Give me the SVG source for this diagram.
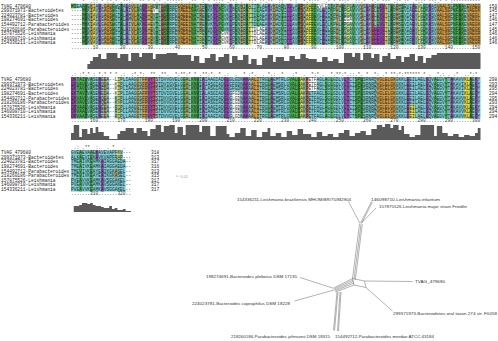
<svg xmlns="http://www.w3.org/2000/svg" width="498" height="341" viewBox="0 0 498 341">
<style>
.m{font-family:"Liberation Mono","DejaVu Sans Mono",monospace;font-size:4.55px;fill:#1e1e1e}
.c{font-family:"Liberation Mono","DejaVu Sans Mono",monospace;font-size:4.55px;fill:#333}
.cy{fill:#7ccfd6}
.g{stroke:#46b34a}.d{stroke:#347a34}.p{stroke:#9a44b4}.o{stroke:#cf9a42}.y{stroke:#e6dd3a}.r{stroke:#d04a3a}
.fw{fill:#fff}.fg{fill:#46b34a}.fp{fill:#9a44b4}.fo{fill:#cf9a42}.fy{fill:#e6dd3a}
.h{fill:#5a5a5a}
.tl{stroke:#555;stroke-width:.45;fill:none}
.lb{font-family:"Liberation Sans",Arial,sans-serif;font-size:4.3px;fill:#333}
</style>
<rect width="498" height="341" fill="#fff"/>

<g id="block1">
 <g transform="translate(71,24.4) scale(2.73,1)">
  <rect class="cy" x="0" y="-20.7" width="150" height="41.4"/>
  <g fill="none" stroke-width="41.4">
   <path class="g" d="M4 0h1M15 0h1M24 0h1M31 0h1M34 0h1M44 0h2M54 0h2M60 0h1M68 0h1M77 0h1M88 0h2M95 0h1M103 0h1M112 0h1M121 0h1M129 0h1M140 0h2M143 0h1"/>
   <path class="d" d="M5 0h1M18 0h1M35 0h1M49 0h1M64 0h1M83 0h1M99 0h1M117 0h1M142 0h1"/>
   <path class="p" d="M10 0h1M20 0h1M26 0h2M52 0h2M58 0h1M72 0h1M79 0h2M92 0h1M108 0h1M113 0h2M125 0h1M131 0h1"/>
   <path class="o" d="M7 0h1M12 0h3M22 0h2M29 0h1M39 0h5M47 0h1M62 0h1M74 0h1M97 0h1M106 0h1M119 0h1M134 0h5M145 0h5"/>
   <path class="y" d="M8 0h1M28 0h1M65 0h1M86 0h2M101 0h1M115 0h1M127 0h1"/>
   <path class="r" d="M33 0h1M84 0h1M110 0h1"/>
  </g>
  <rect class="fw" x="0" y="-16.1" width="4" height="36.8"/>
  <rect class="fg" x="0" y="-20.7" width="2" height="4.6"/>
  <rect class="fw" x="66" y="2.3" width="5" height="18.4"/>
  <rect class="fw" x="90" y="-20.7" width="4" height="4.6"/>
  <rect class="fp" x="111" y="2.3" width="3" height="18.4"/>
  <rect class="fw" x="55" y="6.9" width="3" height="13.8"/>
  <rect class="fw" x="30" y="-16.1" width="2" height="4.6"/>
  <rect class="fw" x="100" y="-6.9" width="3" height="4.6"/>
  <rect class="fy" x="47" y="6.9" width="1" height="13.8"/>
 </g>
 <text class="c" x="71" y="3.4" xml:space="preserve">    *  .:: * :*.* .**:.  ** * *.* .*:*:*:  .**  : * *::* .**: .  *:* :*.**  ::  * :  *.*:**  .* * **:*  ::.*  *.* *** .:* :* .*::* **:.* * :**********</text>
 <text class="m">
  <tspan x="1" y="7.6">TVAG_479680</tspan>
  <tspan x="1" y="12.2">299371973-Bacteroidetes</tspan>
  <tspan x="1" y="16.8">224023781-Bacteroides</tspan>
  <tspan x="1" y="21.4">198274691-Bacteroides</tspan>
  <tspan x="1" y="26">154492712-Parabacteroides</tspan>
  <tspan x="1" y="30.6">218260186-Parabacteroides</tspan>
  <tspan x="1" y="35.2">157875526-Leishmania</tspan>
  <tspan x="1" y="39.8">146098710-Leishmania</tspan>
  <tspan x="1" y="44.4">154336211-Leishmania</tspan>
 </text>
 <text class="m">
  <tspan x="71" y="7.6">MIEAAVEKIAVLGAGGWGTALAVLLAKNGHDVTLWARRPEQAEEINATRENKKYLPGVKLPDNIKATTDLAEAVKDADVILLAVPSQAFREVLEQIKPHLKPGAVVVSLAKGLEVGTLKRMSEVIAEVLGDKASVAALSGPNFAKEVAEG</tspan>
  <tspan x="71" y="12.2">----MKKIAVIGAGSWGTALAIVLANNGHEVTLWARRPEVAEEINAKHENKKYLPGVKLPENIRATTDLAEAVKDADVILLAVPSQAFRDVLEQIKPHLKPGAVVVSLAKGLEVGTLKRMSEVIAEELGDKASVAALSGPNFAKEVAEGK</tspan>
  <tspan x="71" y="16.8">----MKNIAVLGAGSWGTALAMVLAQNGHDVTLWSRRPEQAEEINATRENEKYLPGVKLPENIRATTDLAEAVKNADIILLAVPSQAFREVLEQIKPHLKEGAVVVSLAKGLEVGTLKRMSEVIAEVLGDKASVAALSGPNFAKEVAEGL</tspan>
  <tspan x="71" y="21.4">----MKNIAILGAGSWGTALAMVLAQNGHDVTLWSRRPEQAEEINATHENEKYLPGVKLPDNIRATTDLAEAVKNADIILLAVPSQAFREVLEQIKPYLKEGAVVVSLAKGLEVGTLKRMSEVIAEVLGEKASVAALSGPNFAKEVAEGL</tspan>
  <tspan x="71" y="26">----MKKIAVLGAGSWGTALAIVLAKNGHEVTLWARRPEQAEEINATRENVKYLPGVKLPENIRATTDLAEAVKDADVILLAVPSQAFREVLEQLKPHLKPGAVVVSLAKGLEVGTLKRMSEVIAEVLGDKASVAALSGPNFAKEVAEGK</tspan>
  <tspan x="71" y="30.6">----MKKIAVLGAGSWGTALAIVLAKNGHEVTLWARRPEQAEEINSTRENVKYLPGVKLPENIRATTDLAEAVKDADVILLAVPSQAFREVLEQLKPHLKPGAVVVSLAKGLEVGTLKRMSEVIAEVLGDKASVAALSGPNFAKEVAEGK</tspan>
  <tspan x="71" y="35.2">----MSKVAVIGAGAWGTALALVLASKGHEVRLWSRRPEVAEAINATRENTKYLPGVKLPENIRATTDLAEAVKDASLILLAVPSQFFREVLEQIRPHLKAGAVLVSLAKGLEVGTGKRMSEVIREVLGDKASVAALSGPNFAKEVAEGR</tspan>
  <tspan x="71" y="39.8">----MSKVAVIGAGAWGTALALVLASKGHDVRLWSRRPEVAEAINATRENTKYLPGVKLPENIRATTDLAEAVKDASLILLAVPSQFFREVLEQIRPHLKAGAVLVSLAKGLEVGTGKRMSEVIREVLGDKASVAALSGPNFAKEVAEGR</tspan>
  <tspan x="71" y="44.4">----MSKVAVIGAGAWGTALALVLANKGHEVRLWSRRPEVAEAINATRENTKYLPGVKLPENIRATTDLAEAVKDASLVLLAVPSQFFREVLEQIRPHLKAGAVLVSLAKGLEVGTGKRMSEVIREVLGDKASVAALSGPNFAKEVAEGR</tspan>
 </text>
 <text class="m">
  <tspan x="489" y="7.6">150</tspan>
  <tspan x="489" y="12.2">145</tspan>
  <tspan x="489" y="16.8">147</tspan>
  <tspan x="489" y="21.4">146</tspan>
  <tspan x="489" y="26">147</tspan>
  <tspan x="489" y="30.6">145</tspan>
  <tspan x="489" y="35.2">146</tspan>
  <tspan x="489" y="39.8">146</tspan>
  <tspan x="489" y="44.4">146</tspan>
 </text>
 <text class="c" x="71" y="48.6">........10........20........30........40........50........60........70........80........90.......100.......110.......120.......130.......140.......150</text>
 <g transform="translate(71,0) scale(2.73,1)">
  <path class="h" d="M6 69V64H7V61H8V57H10V54H11V59H13V53H17V58H18V54H21V61H22V53H25V57H26V53H30V59H31V54H35V53H39V55H44V61H45V56H47V63H49V58H51V54H53V61H54V57H56V54H58V63H59V56H61V60H63V55H65V64H66V59H68V65H70V58H72V55H74V62H75V57H78V61H80V56H82V59H84V54H86V58H87V59H90V62H92V57H94V61H96V59H98V63H100V53H103V57H104V53H106V60H107V53H110V58H111V54H113V62H114V56H116V53H117V59H119V56H121V62H122V57H124V54H126V61H127V56H129V63H130V58H132V55H134V53H150V69Z"/>
 </g>
</g>

<g id="block2">
 <g transform="translate(71,97.9) scale(2.73,1)">
  <rect class="cy" x="0" y="-20.7" width="150" height="41.4"/>
  <g fill="none" stroke-width="41.4">
   <path class="p" d="M0 0h2M10 0h1M28 0h2M48 0h1M56 0h2M63 0h2M73 0h1M100 0h2M123 0h1M130 0h1M139 0h1M148 0h1"/>
   <path class="g" d="M2 0h3M7 0h1M41 0h1M44 0h2M72 0h1M80 0h3M93 0h1M95 0h1M104 0h2M133 0h1M137 0h1"/>
   <path class="d" d="M5 0h1M46 0h1M83 0h1M106 0h1M146 0h1"/>
   <path class="o" d="M12 0h1M24 0h1M26 0h2M42 0h1M66 0h3M112 0h7"/>
   <path class="y" d="M17 0h1M84 0h1M144 0h2"/>
   <path class="r" d="M30 0h1M86 0h1"/>
  </g>
  <rect class="fw" x="14" y="-20.7" width="2" height="41.4"/>
  <rect class="fw" x="16" y="-20.7" width="1" height="18.4"/>
  <rect class="fw" x="59" y="-6.9" width="3" height="27.6"/>
  <rect class="fw" x="87" y="-20.7" width="3" height="13.8"/>
  <rect class="fy" x="124" y="6.9" width="2" height="13.8"/>
 </g>
 <text class="c" x="71" y="76.2" xml:space="preserve">.: :*.* : *.* * * .:  :*.*:  ** .**.  *:**:* * .**:*  * .:  .  * :*.  . *.:  *   :*  .  *:* .  *.**:*.::.*. *  *: .* **:*:****** * .  *.: . .*  ..*:* </text>
 <text class="m">
  <tspan x="1" y="81.1">TVAG_479680</tspan>
  <tspan x="1" y="85.7">299371973-Bacteroidetes</tspan>
  <tspan x="1" y="90.3">224023781-Bacteroides</tspan>
  <tspan x="1" y="94.9">198274691-Bacteroides</tspan>
  <tspan x="1" y="99.5">154492712-Parabacteroides</tspan>
  <tspan x="1" y="104.1">218260186-Parabacteroides</tspan>
  <tspan x="1" y="108.7">157875526-Leishmania</tspan>
  <tspan x="1" y="113.3">146098710-Leishmania</tspan>
  <tspan x="1" y="117.9">154336211-Leishmania</tspan>
 </text>
 <text class="m">
  <tspan x="71" y="81.1">DKTAIVVASENEEA--LIPLIAAGGTFRVYTSTDVVGVELGGALKNVIAIAAGIADGLGLGDNAKAALITRGLAEMTRLGVALGAKPETFAGLAGLGDLVLTCTSPLSRNRQVGLELGKGKKLEEILAELGQVAEGVYTAKAVVKLAEKY</tspan>
  <tspan x="71" y="85.7">EKVAVLVASENQDA--KIPLLAAGGSFRVYTSTDVIGVELGGALKNVIAIASGIADGLGFGDNAKAALITRGLAEMSRLGVALGAKPETFAGLSGLGDLVLTCTSPLSRNRQVGLELGKGKKLEEILAELGQVAEGVYTAKAVIKLAEKY</tspan>
  <tspan x="71" y="90.3">EKTAVLVASENEDA--KIPLIAAGGAFRVYTSTDVIGVELGGALKNVIALASGIADGLGFGDNAKAALITRGLAEMSRLGVALGAKPETFAGLSGLGDLVLTCTSPLSRNRQVGLELGKGKKLEEILAELGQVAEGVYTAKAVIKLAEQY</tspan>
  <tspan x="71" y="94.9">EKTAVIVASENEDA--KIPLIAAGGAFRVYTSTDVIGVELGGALKNVIALASGIADGLGFGDNAKAALITRGLAEMSRLGVALGAKPETFAGLSGLGDLVLTCTSPLSRNRQVGLELGKGKKLEEILAELGQVAEGVYTAKAVIKLAEQY</tspan>
  <tspan x="71" y="99.5">EKVAVLVASENQEA--KIPLLAAGGSFRVYTSTDVVGVELGGALKNVIAIASGIADGLGLGDNAKAALITRGLAEMSRLGVALGAKPETFAGLSGLGDLVLTCTSPLSRNRQVGLELGKGKKLEEILAELGQVAEGVYTAKAVVKLAEKY</tspan>
  <tspan x="71" y="104.1">EKVAVLVASENQEA--KVPLLAAGGSFRVYTSTDVVGVELGGALKNVIAIASGIADGLGLGDNAKAALITRGLAEMSRLGVALGAKPETFAGLSGLGDLVLTCTSPLSRNRQVGLELGKGKKLEEILAELGQVAEGVYTAKAVVKLAEKY</tspan>
  <tspan x="71" y="108.7">DRVAALVASENEEA--RIPLLAAGGTFRVYTSTDVVGVELGGALKNVIAIAAGIADGLGLGDNAKAALITRGLAEMTRLGVALGAKPETFAGLAGLGDLVLTCTSPLSRNRQVGLELGKGKKLEEILAELGQVAEGVYTAKAVVKLAEKY</tspan>
  <tspan x="71" y="113.3">DRVAALVASENEEA--RIPLLAAGGTFRVYTSTDVVGVELGGALKNVIAIAAGIADGLGLGDNAKAALITRGLAEMTRLGVALGAKPETFAGLAGLGDLVLTCTSPLSRNRQVGLELGKGKKLEEILAELGQVAEGVYTAKAVVKLAEQY</tspan>
  <tspan x="71" y="117.9">DRVAAIVASENEEA--RIPLLAAGGTFRVYTSTDVVGVELGGALKNVIAIAAGIADGLGLGDNAKAALITRGLAEMTRLGVALGAKPETFAGLAGLGDLVLTCTSPLSRNRQVGLELGKGKKLEEILAELGQVAEGVYTAKAVVKLAEQY</tspan>
 </text>
 <text class="m">
  <tspan x="489" y="81.1">298</tspan>
  <tspan x="489" y="85.7">293</tspan>
  <tspan x="489" y="90.3">295</tspan>
  <tspan x="489" y="94.9">294</tspan>
  <tspan x="489" y="99.5">295</tspan>
  <tspan x="489" y="104.1">293</tspan>
  <tspan x="489" y="108.7">294</tspan>
  <tspan x="489" y="113.3">294</tspan>
  <tspan x="489" y="117.9">294</tspan>
 </text>
 <text class="c" x="71" y="122">.......160.......170.......180.......190.......200.......210.......220.......230.......240.......250.......260.......270.......280.......290.......300</text>
 <g transform="translate(71,0) scale(2.73,1)">
  <path class="h" d="M0 140V133H1V125H3V137H4V129H6V134H7V128H8V133H9V127H10V132H12V136H14V139H17V134H18V131H20V128H23V133H24V128H26V131H28V136H29V129H31V125H33V132H34V126H36V125H38V133H39V127H41V135H42V125H47V132H48V126H51V136H53V126H57V134H58V137H60V133H62V128H64V136H66V130H68V137H70V132H72V128H73V136H75V133H77V137H79V131H81V135H83V129H85V134H88V137H90V132H92V136H94V134H96V137H98V133H100V130H102V136H104V133H106V131H108V135H110V129H112V125H114V127H115V124H117V128H118V125H120V130H121V126H122V134H124V137H126V135H128V125H133V136H134V126H136V133H138V136H140V134H142V137H144V135H146V136H148V133H149V128H150V140Z"/>
 </g>
</g>

<g id="block3">
 <g transform="translate(71,170.9) scale(2.73,1)">
  <rect class="cy" x="0" y="-20.7" width="22" height="41.4"/>
  <g fill="none" stroke-width="41.4">
   <path class="g" d="M3 0h1M7 0h1"/>
  </g>
  <rect class="fp" x="9" y="-20.7" width="1" height="9.2"/>
  <rect class="fp" x="11" y="-11.5" width="1" height="32.2"/>
  <rect class="fo" x="16" y="-2.3" width="1" height="9.2"/>
  <rect class="fy" x="17" y="-20.7" width="1" height="9.2"/>
  <rect class="fw" x="19" y="-20.7" width="3" height="9.2"/>
  <rect class="fw" x="20" y="-11.5" width="2" height="32.2"/>
 </g>
 <text class="c" x="71" y="149" xml:space="preserve"> .: .**  :.  . *   .  </text>
 <text class="m">
  <tspan x="1" y="154.1">TVAG_479680</tspan>
  <tspan x="1" y="158.7">299371973-Bacteroidetes</tspan>
  <tspan x="1" y="163.3">224023781-Bacteroides</tspan>
  <tspan x="1" y="167.9">198274691-Bacteroides</tspan>
  <tspan x="1" y="172.5">154492712-Parabacteroides</tspan>
  <tspan x="1" y="177.1">218260186-Parabacteroides</tspan>
  <tspan x="1" y="181.7">157875526-Leishmania</tspan>
  <tspan x="1" y="186.3">146098710-Leishmania</tspan>
  <tspan x="1" y="190.9">154336211-Leishmania</tspan>
 </text>
 <text class="m">
  <tspan x="71" y="154.1">GVEAEVAAEKAVEVAPFKV---</tspan>
  <tspan x="71" y="158.7">ALKAEVIEKAVKVAPFRAP---</tspan>
  <tspan x="71" y="163.3">TMEAIVKEAMKAIAGGAEDA--</tspan>
  <tspan x="71" y="167.9">TMEAIVKEAMKAIAGGAEDA--</tspan>
  <tspan x="71" y="172.5">TMEVIVKEAYEAIKGKASEL--</tspan>
  <tspan x="71" y="177.1">TMEVIVKEAYEAIKGKASEL--</tspan>
  <tspan x="71" y="181.7">PVEAVVKEAMKAVSGGAKEL--</tspan>
  <tspan x="71" y="186.3">PVEAVVKEAMKAVSGGAKEL--</tspan>
  <tspan x="71" y="190.9">PVEAVVKEAMKAVSGGAKEL--</tspan>
 </text>
 <text class="m">
  <tspan x="151" y="154.1">318</tspan>
  <tspan x="151" y="158.7">313</tspan>
  <tspan x="151" y="163.3">317</tspan>
  <tspan x="151" y="167.9">316</tspan>
  <tspan x="151" y="172.5">313</tspan>
  <tspan x="151" y="177.1">315</tspan>
  <tspan x="151" y="181.7">317</tspan>
  <tspan x="151" y="186.3">317</tspan>
  <tspan x="151" y="190.9">317</tspan>
 </text>
 <text class="c" x="71" y="195">.......310.......320..</text>
 <g transform="translate(71,0) scale(2.73,1)">
  <path class="h" d="M1 212V206H3V205H4V203H6V204H7V203H8V205H9V206H11V207H12V208H14V206H15V209H16V208H17V210H19V209H20V211H22V212Z"/>
 </g>
</g>

<g id="scale">
 <path d="M176.5 175.2v2M176.5 176.2h4" stroke="#aaa" stroke-width=".4" fill="none"/>
 <text x="181" y="177.6" font-family="Liberation Sans,Arial,sans-serif" font-size="3.6" fill="#999">0.01</text>
</g>

<g id="connectors">
 <path class="tl" d="M360 223.5L348.5 201.5"/>
 <path class="tl" d="M360.5 223L371.5 201.5M361.5 223.5L372.5 202"/>
 <path class="tl" d="M362 222.5L376 208"/>
 <path class="tl" d="M359.5 224L352.5 278.5M361 224L354 279.2M362.3 224.3L355.3 279.8"/>
 <path class="tl" d="M352.5 278.5L364.5 281L366 287.5L354 285Z"/>
 <path class="tl" d="M364.5 281L412.5 281.5"/>
 <path class="tl" d="M366 287.5L392.5 311"/>
 <path class="tl" d="M352.5 278.5L333.5 288M353 280L334 289M353.5 281.5L334.5 290M354 283L335 291M354 285L335.5 292"/>
 <path class="tl" d="M333.5 288.3L300 277.5"/>
 <path class="tl" d="M334 290L294.5 301"/>
 <path class="tl" d="M337 292L333.5 330.5M338 292L334.5 330.5"/>
 <path class="tl" d="M340 292L337.5 331M341 292L338.5 331"/>
</g>

<g id="leaf-braziliensis"><text class="lb" x="237" y="200.5" textLength="114" lengthAdjust="spacingAndGlyphs">154336211-Leishmania braziliensis MHOM/BR/75/M2904</text></g>
<g id="leaf-infantum"><text class="lb" x="371" y="200.5" textLength="69" lengthAdjust="spacingAndGlyphs">146098710-Leishmania infantum</text></g>
<g id="leaf-major"><text class="lb" x="379" y="208" textLength="88" lengthAdjust="spacingAndGlyphs">157875526-Leishmania major strain Friedlin</text></g>
<g id="leaf-tvag"><text class="lb" x="415" y="283.2" textLength="30" lengthAdjust="spacingAndGlyphs">TVAG_479680</text></g>
<g id="leaf-299371973"><text class="lb" x="393" y="314.5" textLength="104" lengthAdjust="spacingAndGlyphs">299371973-Bacteroidetes oral taxon 274 str. F0058</text></g>
<g id="leaf-plebeius"><text class="lb" x="206" y="278.2" textLength="91" lengthAdjust="spacingAndGlyphs">198274691-Bacteroides plebeius DSM 17135</text></g>
<g id="leaf-coprophilus"><text class="lb" x="192" y="304.8" textLength="98" lengthAdjust="spacingAndGlyphs">224023781-Bacteroides coprophilus DSM 18228</text></g>
<g id="leaf-johnsonii"><text class="lb" x="231" y="338.3" textLength="99" lengthAdjust="spacingAndGlyphs">218260186-Parabacteroides johnsonii DSM 18315</text></g>
<g id="leaf-merdae"><text class="lb" x="335" y="338.3" textLength="99" lengthAdjust="spacingAndGlyphs">154492712-Parabacteroides merdae ATCC 43184</text></g>
</svg>
